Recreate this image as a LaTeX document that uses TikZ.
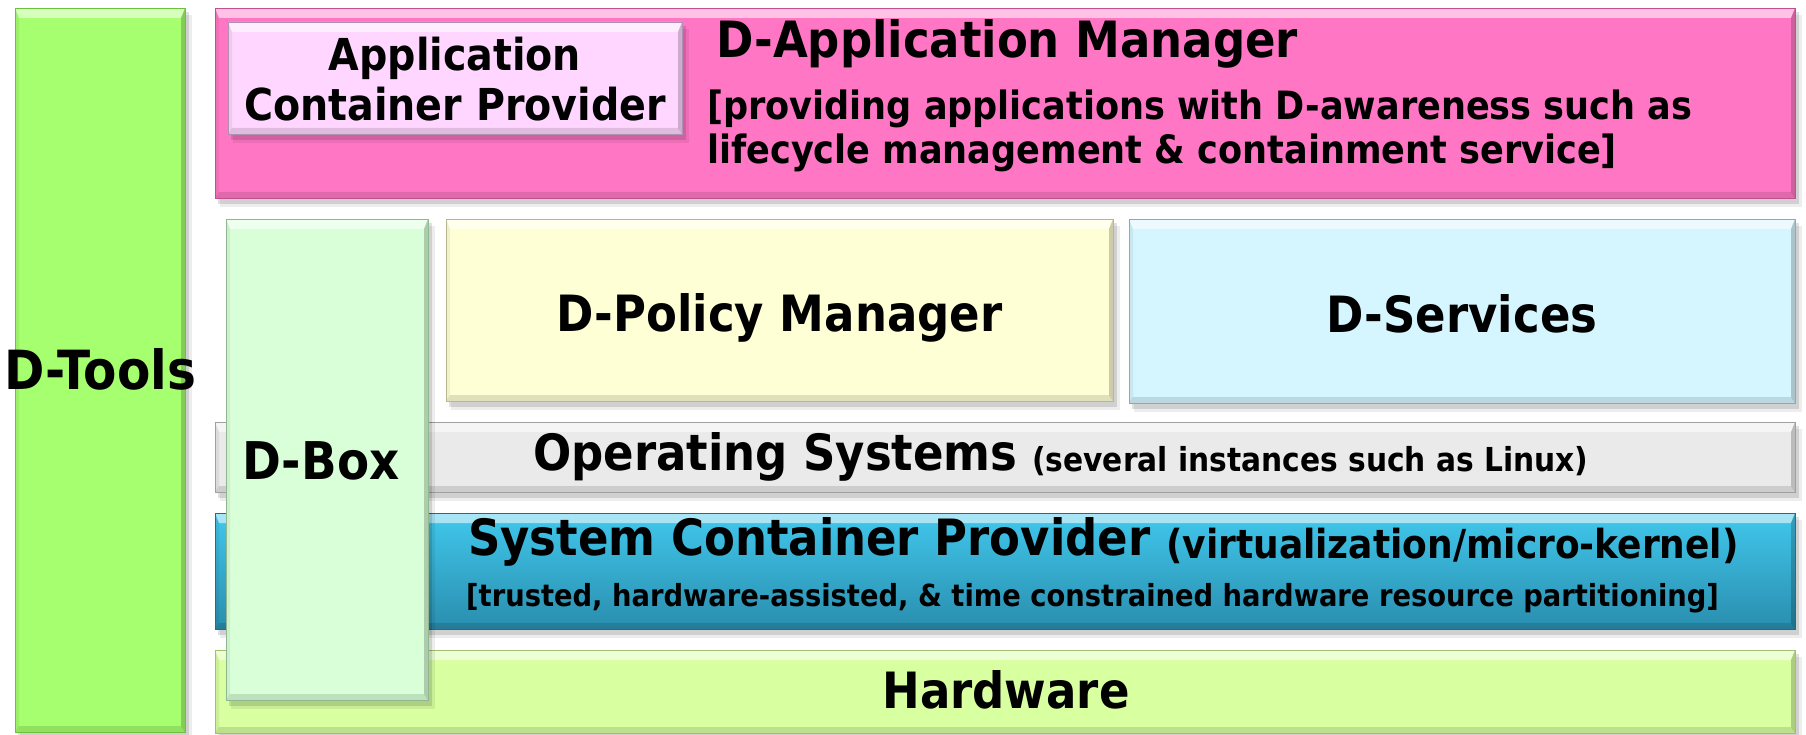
\documentclass[tikz,border=0pt]{standalone}
\usepackage{fontspec}
\setmainfont{DejaVu Sans Condensed}
\usetikzlibrary{calc}

\definecolor{toolsC}{HTML}{A6FF6E}\definecolor{toolsE}{HTML}{6DBF3F}
\definecolor{appC}{HTML}{FF77C4}\definecolor{appE}{HTML}{C0508F}
\definecolor{acpC}{HTML}{FFD6FF}\definecolor{acpE}{HTML}{B090B0}
\definecolor{dboxC}{HTML}{D8FFD8}\definecolor{dboxE}{HTML}{8FB88F}
\definecolor{polC}{HTML}{FFFFD6}\definecolor{polE}{HTML}{B8B890}
\definecolor{srvC}{HTML}{D6F6FF}\definecolor{srvE}{HTML}{8FA8B8}
\definecolor{osC}{HTML}{EAEAEA}\definecolor{osE}{HTML}{A0A0A0}
\definecolor{scpT}{HTML}{40C8EC}\definecolor{scpB}{HTML}{2A8DAE}\definecolor{scpE}{HTML}{1F6F8A}
\definecolor{hwC}{HTML}{D8FFA0}\definecolor{hwE}{HTML}{A0C070}

\tikzset{
  layer/.style={inner sep=0pt, outer sep=0pt, anchor=north west},
  label/.style={inner sep=0pt, font=\bfseries, text=black},
  shade/.style={black, opacity=.12},
}
\newcommand\fsz[1]{\fontsize{#1}{1.18\dimexpr#1pt\relax}\selectfont}

% beveled layer: name, left, top, width, height, fill options, edge colour
\newcommand\layerbox[7]{%
  \node[layer, name=#1, minimum width=#4pt, minimum height=#5pt] at (#2,#3) {};
  \fill[shade] ($(#1.north west)+(3,4)$) rectangle ($(#1.south east)+(4,6)$);
  \fill[black,opacity=.07] ($(#1.north west)+(5,7)$) rectangle ($(#1.south east)+(7,9)$);
  \fill[#6] (#1.north west) rectangle (#1.south east);
  \fill[white,opacity=.55] (#1.north west) -- (#1.north east) -- ($(#1.north east)+(-4,10)$) -- ($(#1.north west)+(4,10)$) -- cycle;
  \fill[black,opacity=.12] (#1.south west) -- (#1.south east) -- ($(#1.south east)+(-4,-6)$) -- ($(#1.south west)+(4,-6)$) -- cycle;
  \fill[black,opacity=.2] (#1.north east) -- (#1.south east) -- ($(#1.south east)+(-4,-6)$) -- ($(#1.north east)+(-4,10)$) -- cycle;
  \fill[black,opacity=.06] (#1.north west) -- (#1.south west) -- ($(#1.south west)+(4,-6)$) -- ($(#1.north west)+(4,10)$) -- cycle;
  \draw[#7, line width=.8pt] (#1.north west) rectangle (#1.south east);
}

\begin{document}
\begin{tikzpicture}[x=1pt, y=-1pt]
\useasboundingbox (0,0) rectangle (1806,735);

% vertical tool bar and the application layer
\layerbox{tools}{15}{8}{170}{724}{toolsC}{toolsE}
\layerbox{appmgr}{215}{8}{1580}{190}{appC}{appE}
\layerbox{acp}{228}{22}{454}{112}{acpC}{acpE}

% middle services
\layerbox{policy}{446}{219}{667}{182}{polC}{polE}
\layerbox{services}{1129}{219}{666}{184}{srvC}{srvE}

% lower layers
\layerbox{os}{215}{422}{1580}{70}{osC}{osE}
\layerbox{scp}{215}{513}{1580}{116}{top color=scpT, bottom color=scpB}{scpE}
\layerbox{hw}{215}{650}{1580}{83}{hwC}{hwE}

% D-Box spans the lower layers
\layerbox{dbox}{226}{219}{202}{481}{dboxC}{dboxE}

% texts
\node[label, font=\bfseries\fsz{54}] (toolsT) at ($(tools.north)+(0,361)$) {D-Tools};
\node[label, font=\bfseries\fsz{44}, align=center] (acpT) at ($(acp.center)+(0,1)$) {Application\\[-2pt]Container Provider};
\node[label, font=\bfseries\fsz{50}, anchor=west] (appT) at (716,44) {D-Application Manager};
\node[label, font=\bfseries\fsz{39}, anchor=west, align=left] (appD) at (707,131)
  {[providing applications with D-awareness such as\\[-2pt]lifecycle management \& containment service]};
\node[label, font=\bfseries\fsz{50}, anchor=base] (polT) at ($(policy.center)+(0,21)$) {D-Policy Manager};
\node[label, font=\bfseries\fsz{50}, anchor=base] (srvT) at ($(services.center)+(0,21)$) {D-Services};
\node[label, font=\bfseries\fsz{52}, anchor=west] (dboxT) at (242,461) {D-Box};
\node[label, font=\bfseries\fsz{50}, anchor=west] (osT) at (533,457) {Operating Systems};
\node[label, font=\bfseries\fsz{33}, anchor=west] (osD) at (1032,461) {(several instances such as Linux)};
\node[label, font=\bfseries\fsz{50}, anchor=west] (scpT) at (468,542) {System Container Provider};
\node[label, font=\bfseries\fsz{40}, anchor=west] (scpD) at (1166,546) {(virtualization/micro-kernel)};
\node[label, font=\bfseries\fsz{30.4}, anchor=west] (scpN) at (466,598)
  {[trusted, hardware-assisted, \& time constrained hardware resource partitioning]};
\node[label, font=\bfseries\fsz{50}] (hwT) at (1006,690) {Hardware};
\end{tikzpicture}
\end{document}
